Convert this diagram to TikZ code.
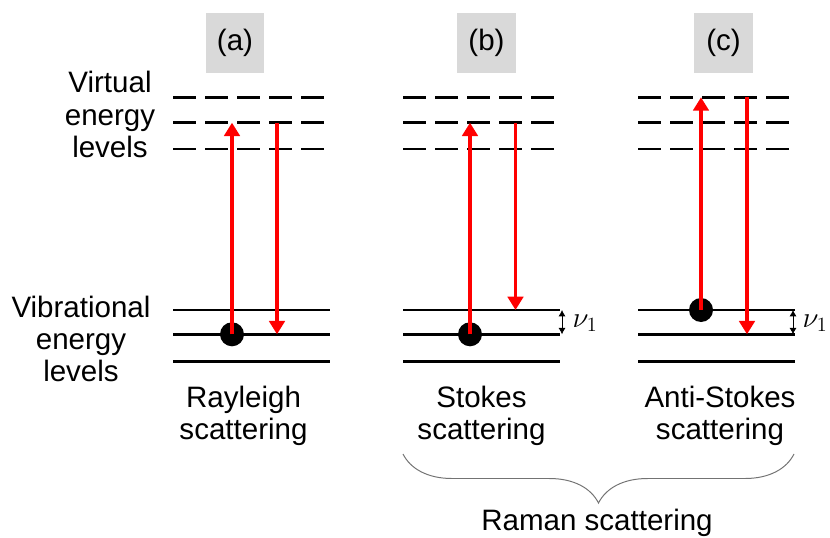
\documentclass[tikz,border=0pt]{standalone}
\usepackage{fontspec}
\setmainfont{Liberation Sans}
\usetikzlibrary{arrows.meta,decorations.pathreplacing}

\begin{document}
\begin{tikzpicture}[
    x=0.025cm, y=-0.025cm,
    >=Latex, % Set default arrow tip style
    every node/.style={font=\fontsize{21}{22.8}\selectfont},
    tag/.style={fill=black!15, minimum width=1.45cm, minimum height=1.5cm, inner sep=0pt}, % Panel letters
    virtual/.style={line width=1.8pt, dash pattern=on 16.4pt off 6.4pt}, % Virtual levels
    level/.style={line width=1.8pt}, % Vibrational levels
    dot/.style={circle, fill=black, minimum size=0.6cm, inner sep=0pt}, % Molecule
    photon/.style={red, line width=2.4pt, -{Triangle[width=11pt,length=9.5pt]}}, % Light
    gap/.style={line width=0.6pt, {Latex[width=5pt,length=4.5pt]}-{Latex[width=5pt,length=4.5pt]}} % Level spacing
]
\useasboundingbox (0,0) rectangle (830,538);

% Panel letters
\node[tag] (boxa) at (235,43) {(a)};
\node[tag] (boxb) at (486.5,43) {(b)};
\node[tag] (boxc) at (723.5,43) {(c)};

% Energy levels for the three panels
\foreach \x in {173,403,638} {
    \draw[virtual] (\x,97.3) -- ++(152,0);
    \draw[virtual] (\x,122.7) -- ++(152,0);
    \draw[virtual] (\x,149) -- ++(152,0);
    \draw[level] (\x,310) -- ++(157,0);
    \draw[level] (\x,334.3) -- ++(157,0);
    \draw[level] (\x,361.7) -- ++(157,0);
}

% Side labels
\node[align=center] (virtlabel) at (110,114.5) {Virtual\\energy\\levels};
\node[align=center] (viblabel) at (81,339) {Vibrational\\energy\\levels};

% Rayleigh
\node[dot] (dota) at (232,334.3) {};
\coordinate (upa) at (232,122.7);
\coordinate (froma) at (277,122.7);
\coordinate (toa) at (277,334.3);
\draw[photon] (dota.center) -- (upa);
\draw[photon] (froma) -- (toa);
\node[align=center] (raylabel) at (243.5,416) {Rayleigh\\scattering};

% Stokes
\node[dot] (dotb) at (470,334.3) {};
\coordinate (upb) at (470,122.7);
\coordinate (fromb) at (515.5,122.7);
\coordinate (tob) at (515.5,310);
\draw[photon] (dotb.center) -- (upb);
\draw[photon] (fromb) -- (tob);
\coordinate (nubtop) at (562,310);
\coordinate (nubbot) at (562,334.3);
\draw[gap] (nubtop) -- (nubbot);
\node (nub) at (585,323) {$\nu_1$};
\node[align=center] (stokeslabel) at (481.5,416) {Stokes\\scattering};

% Anti-Stokes
\node[dot] (dotc) at (701,310) {};
\coordinate (upc) at (701,97.3);
\coordinate (fromc) at (747,97.3);
\coordinate (toc) at (747,334.3);
\draw[photon] (dotc.center) -- (upc);
\draw[photon] (fromc) -- (toc);
\coordinate (nuctop) at (793,310);
\coordinate (nucbot) at (793,334.3);
\draw[gap] (nuctop) -- (nucbot);
\node (nuc) at (815,323) {$\nu_1$};
\node[align=center] (antilabel) at (720,416) {Anti-Stokes\\scattering};

% Brace over the Raman panels
\coordinate (bracel) at (403,454);
\coordinate (bracer) at (794,454);
\draw[black!55, line width=0.7pt, decorate, decoration={brace, mirror, amplitude=1.225cm}] (bracel) -- (bracer);
\node[anchor=base] (raman) at (597,530.5) {Raman scattering};

\end{tikzpicture}
\end{document}
